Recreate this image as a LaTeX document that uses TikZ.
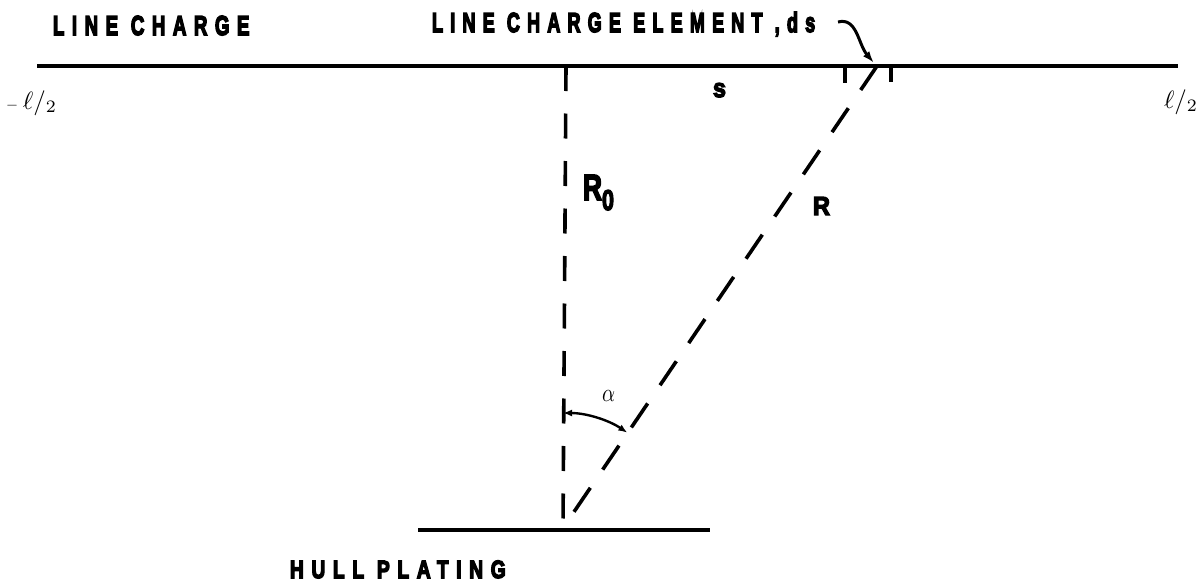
\documentclass[tikz,border=0pt]{standalone}
\usepackage{fontspec}
\usepackage{graphicx}
\usetikzlibrary{arrows.meta,calc}
\newfontfamily\lblfont[LetterSpace=40,FakeBold=6]{Liberation Sans}
\newfontfamily\symfont[FakeBold=5]{Liberation Sans}
% width, font size, text : width-only scaling, height set by font size
\newcommand{\spaced}[3]{\resizebox{#1pt}{\height}{\fontsize{#2pt}{#2pt}\lblfont\bfseries #3\kern-0.4em}}
\newcommand{\single}[3]{\resizebox{#1pt}{#2pt}{\symfont\bfseries #3}}
\newcommand{\halfell}{\scalebox{2.5}{$\ell\mkern0mu/\mkern0mu{}_2$}}
\begin{document}
\begin{tikzpicture}[x=1pt,y=-1pt,
  lbl/.style={inner sep=0pt, outer sep=0pt, anchor=base west},
  mainline/.style={line width=4pt},
  hull/.style={line width=3.5pt},
  vdash/.style={line width=3.6pt, dash pattern=on 25pt off 22.5pt},
  sdash/.style={line width=3.6pt, dash pattern=on 29pt off 22pt},
  tickmark/.style={line width=3.6pt},
  hookarrow/.style={line width=3pt, -{Latex[length=12pt,width=8pt]}},
  alphaarc/.style={line width=2.4pt, {Latex[length=9pt,width=7pt]}-{Latex[length=9pt,width=7pt]}}]
\useasboundingbox (0,0) rectangle (1199,584);
% geometry
\coordinate (L) at (37,66);
\coordinate (Rr) at (1178,66);
\coordinate (T) at (566,66);
\coordinate (F) at (563,528);
\coordinate (P) at (877,66);
\coordinate (HL) at (418,530);
\coordinate (HR) at (710,530);
\coordinate (t1a) at (845,66);
\coordinate (t1b) at (845,83);
\coordinate (t2a) at (891,64);
\coordinate (t2b) at (891,82);
\coordinate (A0) at (838,22);
\coordinate (A1) at (874,63);
% lines
\draw[mainline] (L) -- (Rr);
\draw[hull] (HL) -- (HR);
\draw[vdash] (T) -- (F);
\draw[sdash] (P) -- (F);
\draw[tickmark] (t1a) -- (t1b);
\draw[tickmark] (t2a) -- (t2b);
\draw[hookarrow] (A0) .. controls (857,17) and (858,44) .. (A1);
\draw[alphaarc] ($(F)+(0,-115)$) arc[start angle=-90, end angle=-56, radius=115];
% labels
\node[lbl] (lc) at (53,35) {\spaced{189}{27.5}{LINE CHARGE}};
\node[lbl] (lce) at (432,32) {\spaced{376}{27.5}{LINE CHARGE ELEMENT ,ds}};
\node[lbl] (hp) at (290,578) {\spaced{208}{25}{HULL PLATING}};
\node[lbl] (s) at (713,97) {\single{13}{14}{s}};
\node[lbl] (R) at (813,215) {\single{17}{18}{R}};
\node[lbl] (R0) at (583,200) {\single{19}{25}{R}\raisebox{-10pt}{\single{12}{20}{0}}};
\node[lbl] (al) at (602,401) {\resizebox{13pt}{11pt}{$\alpha$}};
\node[lbl] (lm) at (6,109) {\resizebox{12pt}{!}{$-$}};
\node[lbl] (lmv) at (23,109) {\halfell};
\node[lbl] (lp) at (1164,108) {\halfell};
\end{tikzpicture}
\end{document}
